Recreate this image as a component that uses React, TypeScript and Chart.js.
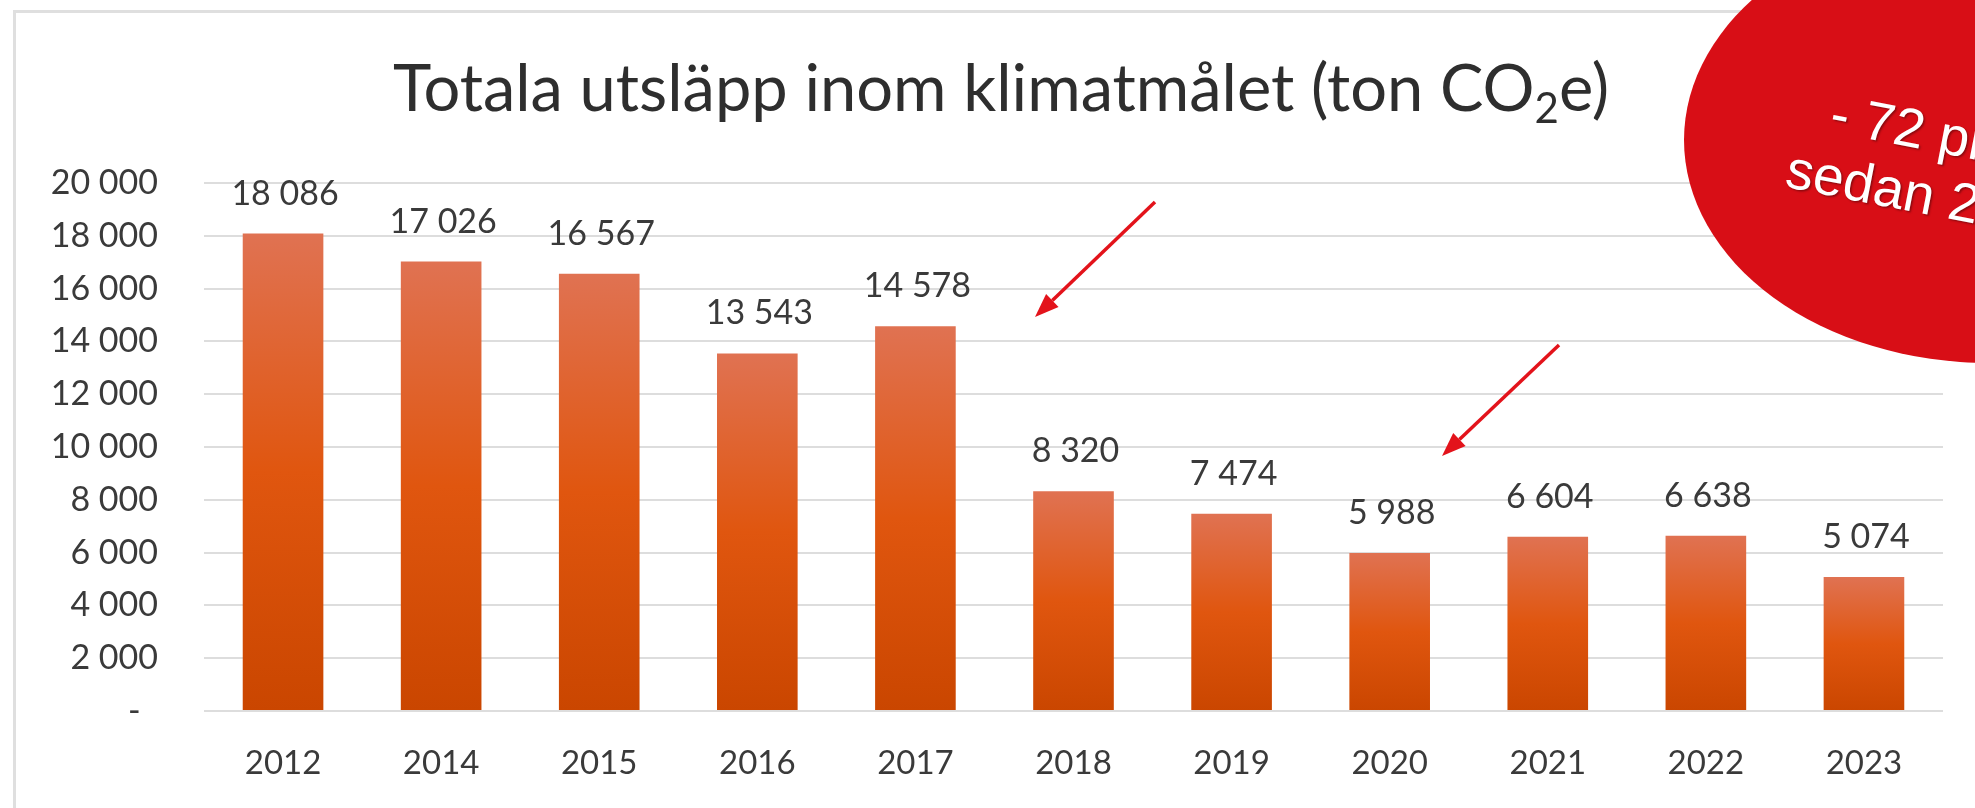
import React, { useEffect, useRef } from "react";
import { Chart, registerables } from "chart.js";

Chart.register(...registerables);

const years = ["2012", "2014", "2015", "2016", "2017", "2018", "2019", "2020", "2021", "2022", "2023"];
const emissions = [18086, 17026, 16567, 13543, 14578, 8320, 7474, 5988, 6604, 6638, 5074];
const yMin = 0;
const yMax = 20000;
const yStep = 2000;
const titleMain = "Totala utsläpp inom klimatmålet (ton CO";
const titleSub = "2";
const titleEnd = "e)";
const badgeLines = ["- 72 procent", "sedan 2012"];

const FONT = "Lato, 'DejaVu Sans', sans-serif";

function fmt(v: number): string {
  if (v === 0) return "-";
  return String(Math.round(v)).replace(/\B(?=(\d{3})+(?!\d))/g, " ");
}

function drawArrow(ctx: CanvasRenderingContext2D, x1: number, y1: number, x2: number, y2: number) {
  const ang = Math.atan2(y2 - y1, x2 - x1);
  const headLen = 24;
  const headHalf = 9;
  const bx = x2 - headLen * Math.cos(ang);
  const by = y2 - headLen * Math.sin(ang);
  ctx.save();
  ctx.strokeStyle = "#E3131B";
  ctx.fillStyle = "#E3131B";
  ctx.lineWidth = 3.5;
  ctx.beginPath();
  ctx.moveTo(x1, y1);
  ctx.lineTo(bx, by);
  ctx.stroke();
  ctx.beginPath();
  ctx.moveTo(x2, y2);
  ctx.lineTo(bx + headHalf * Math.sin(ang), by - headHalf * Math.cos(ang));
  ctx.lineTo(bx - headHalf * Math.sin(ang), by + headHalf * Math.cos(ang));
  ctx.closePath();
  ctx.fill();
  ctx.restore();
}

const decorPlugin = {
  id: "decor",
  beforeDraw(chart: any) {
    const ctx = chart.ctx as CanvasRenderingContext2D;
    ctx.save();
    ctx.strokeStyle = "#DFDFDF";
    ctx.lineWidth = 3;
    ctx.strokeRect(14.5, 11.5, 2400, 1200);
    ctx.restore();
  },
  afterDatasetsDraw(chart: any) {
    const ctx = chart.ctx as CanvasRenderingContext2D;
    const meta = chart.getDatasetMeta(0);
    ctx.save();
    ctx.font = `34px ${FONT}`;
    ctx.fillStyle = "#3A3A3A";
    ctx.textAlign = "center";
    ctx.textBaseline = "alphabetic";
    meta.data.forEach((el: any, i: number) => {
      ctx.fillText(fmt(emissions[i]), el.x + 2, el.y - 29);
    });
    ctx.restore();
  },
  afterDraw(chart: any) {
    const ctx = chart.ctx as CanvasRenderingContext2D;
    // title
    ctx.save();
    ctx.fillStyle = "#2E2E2E";
    ctx.textBaseline = "alphabetic";
    const big = `65px ${FONT}`;
    const small = `42px ${FONT}`;
    ctx.font = big;
    const w1 = ctx.measureText(titleMain).width;
    const w3 = ctx.measureText(titleEnd).width;
    ctx.font = small;
    const w2 = ctx.measureText(titleSub).width;
    const total = w1 + w2 + w3;
    let x = 1001 - total / 2;
    const base = 111;
    ctx.font = big;
    ctx.fillText(titleMain, x, base);
    x += w1;
    ctx.font = small;
    ctx.fillText(titleSub, x, base + 12);
    x += w2;
    ctx.font = big;
    ctx.fillText(titleEnd, x, base);
    ctx.restore();

    // arrows
    drawArrow(ctx, 1155, 202, 1035, 317);
    drawArrow(ctx, 1559, 345, 1442, 456);

    // red badge
    ctx.save();
    ctx.fillStyle = "#D80E16";
    ctx.beginPath();
    ctx.ellipse(1990, 140, 306, 223, 0, 0, Math.PI * 2);
    ctx.fill();
    ctx.translate(1828, 131);
    ctx.rotate((11 * Math.PI) / 180);
    ctx.font = `55px 'Liberation Sans', Arial, sans-serif`;
    ctx.fillStyle = "#FFFFFF";
    ctx.textAlign = "left";
    ctx.textBaseline = "alphabetic";
    ctx.shadowColor = "rgba(0,0,0,0.35)";
    ctx.shadowOffsetX = 1.5;
    ctx.shadowOffsetY = 1.5;
    ctx.shadowBlur = 2;
    ctx.fillText(badgeLines[0], 0, 0);
    ctx.fillText(badgeLines[1], -33, 63);
    ctx.restore();
  },
};

export default function App() {
  const ref = useRef<HTMLCanvasElement | null>(null);

  useEffect(() => {
    const canvas = ref.current;
    if (!canvas) return;
    const chart = new Chart(canvas, {
      type: "bar",
      data: {
        labels: years,
        datasets: [
          {
            data: emissions,
            backgroundColor: (c: any) => {
              const ch = c.chart;
              const ys = ch.scales && ch.scales.y;
              if (!ch.chartArea || !ys || c.type !== "data") return "#E0560F";
              const top = ys.getPixelForValue(c.raw as number);
              const bottom = ys.getPixelForValue(0);
              if (!isFinite(top) || !isFinite(bottom) || bottom - top < 1) return "#E0560F";
              const g = ch.ctx.createLinearGradient(0, top, 0, bottom);
              g.addColorStop(0, "#E07252");
              g.addColorStop(0.5, "#E0560F");
              g.addColorStop(1, "#CA4600");
              return g;
            },
            borderWidth: 0,
            barPercentage: 0.51,
            categoryPercentage: 1,
          },
        ],
      },
      options: {
        responsive: false,
        animation: false,
        devicePixelRatio: 1,
        layout: { padding: { top: 183, right: 32, bottom: 0, left: 0 } },
        plugins: {
          legend: { display: false },
          title: { display: false },
          tooltip: { enabled: false },
        },
        scales: {
          x: {
            grid: { display: false, drawTicks: false },
            border: { display: false },
            ticks: {
              color: "#3A3A3A",
              font: { family: FONT, size: 33 },
              padding: 33,
              maxRotation: 0,
              autoSkip: false,
            },
            afterFit: (s: any) => {
              s.height = 97;
            },
          },
          y: {
            min: yMin,
            max: yMax,
            grid: { color: "#DDDDDD", lineWidth: 2, drawTicks: false },
            border: { display: false },
            ticks: {
              stepSize: yStep,
              color: "#3A3A3A",
              font: { family: FONT, size: 34 },
              padding: 46,
              callback: (v: any) => (Number(v) === 0 ? "-  " : fmt(Number(v))),
            },
            afterFit: (s: any) => {
              s.width = 204;
            },
          },
        },
      },
      plugins: [decorPlugin],
    });
    return () => chart.destroy();
  }, []);

  return (
    <div style={{ position: "absolute", left: 0, top: 0, width: 1975, height: 808, background: "#FFFFFF", overflow: "hidden" }}>
      <canvas ref={ref} width={1975} height={808} style={{ display: "block", width: 1975, height: 808 }} />
    </div>
  );
}
